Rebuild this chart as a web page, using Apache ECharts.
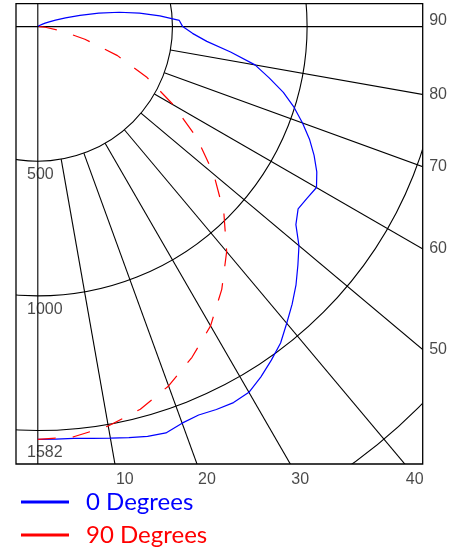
<!DOCTYPE html>
<html><head><meta charset="utf-8">
<script src="https://cdn.jsdelivr.net/npm/echarts@6/dist/echarts.min.js"></script>
<style>html,body{margin:0;padding:0;background:#fff}#c{width:459px;height:550px}</style>
</head><body><div id="c"></div>
<script>
// ---- data ----
const seriesNames = ['0 Degrees', '90 Degrees'];
const angles0 = [0,2.5,5,7.5,10,12.5,15,17.5,20,22.5,25,27.5,30,32.5,35,37.5,40,42.5,45,47.5,50,52.5,55,57.5,60,62.5,65,67.5,70,72.5,75,77.5,80,82.5,85,87.5,90,92.5,95,97.5,100,102.5,105,107.5,110,112.5,115,117.5,120,130,140,150,160,170,180];
const cd0 = [1533,1533,1535,1542,1552,1563,1575,1582,1567,1561,1569,1574,1568,1542,1512,1481,1438,1398,1356,1310,1266,1208,1180,1186,1195,1168,1132,1092,1046,998,944,880,819,722,630,575,538,526,455,381,307,232,162,108,70,46,30,20,13,5,2,1,0,0,0];
const angles90 = [0,5,10,15,20,25,30,35,40,45,50,55,60,65,70,75,80,85,90];
const cd90 = [1533,1529,1506,1471,1420,1355,1283,1191,1091,977,853,721,581,448,315,181,84,28,0];
const radiusLabels = [500, 1000, 1582];
const radialAngles = [10,20,30,40,50,60,70,80];
const bottomAngleLabels = [10,20,30,40];
const rightAngleLabels = [50,60,70,80,90];
const ringInterval = 500;
const ringMax = 2500;

// ---- layout / style ----
const CX = 37.8, CY = 26.6, PX_PER_CD = 0.2693;
const FRAME = {l:16, t:3.7, r:422.7, b:464};
const colors = ['#0000ff', '#ff0000'];
const gridColor = '#000';
const labelFont = {fontFamily:'Liberation Sans, Arial', fontSize:16, color:'#1a1a1a'};
const rad = d => d * Math.PI / 180;
const maxCd = Math.max(...cd0, ...cd90);

const series = [];
// full axis lines through the centre (0-180 and 90-270)
[[0,180],[90,270]].forEach(p => series.push({
  type:'line', coordinateSystem:'polar', data:[[ringMax,p[0]],[ringMax,p[1]]],
  symbol:'none', clip:false, silent:true, z:1,
  lineStyle:{color:gridColor, width:1.1}
}));
// radial lines from the first ring outward
radialAngles.forEach(a => series.push({
  type:'line', coordinateSystem:'polar', data:[[ringInterval,a],[ringMax,a]],
  symbol:'none', clip:false, silent:true, z:1,
  lineStyle:{color:gridColor, width:1.1}
}));
// data series
series.push({
  name:seriesNames[0], type:'line', coordinateSystem:'polar',
  data: angles0.map((a,i)=>[cd0[i], a]), symbol:'none', z:3,
  itemStyle:{color:colors[0]}, lineStyle:{color:colors[0], width:1.2}
});
series.push({
  name:seriesNames[1], type:'line', coordinateSystem:'polar',
  data: angles90.map((a,i)=>[cd90[i], a]), symbol:'none', z:3,
  itemStyle:{color:colors[1]}, lineStyle:{color:colors[1], width:1.2, type:[18,17]}
});
// radius labels along the 0 degree line
series.push({
  type:'scatter', coordinateSystem:'polar', symbolSize:0, z:20, silent:true,
  data: radiusLabels.map(v => ({
    value:[v, 0],
    label:{show:true, formatter:String(v), position:[0,0], align:'left', verticalAlign:'middle',
      offset:[FRAME.l + 11 - CX, v === maxCd ? 0 : 13.5], ...labelFont}
  }))
});
// angle labels on the bottom edge
series.push({
  type:'scatter', coordinateSystem:'polar', symbolSize:0, z:20, silent:true,
  data: bottomAngleLabels.map(a => ({
    value:[(FRAME.b - CY) / Math.cos(rad(a)) / PX_PER_CD, a],
    label:{show:true, formatter:String(a), position:[0,0], align:'left', verticalAlign:'middle',
      offset:[1, 16], ...labelFont}
  }))
});
// angle labels on the right edge
series.push({
  type:'scatter', coordinateSystem:'polar', symbolSize:0, z:20, silent:true,
  data: rightAngleLabels.map(a => ({
    value:[(FRAME.r - CX) / Math.sin(rad(a)) / PX_PER_CD, a],
    label:{show:true, formatter:String(a), position:[0,0], align:'left', verticalAlign:'middle',
      offset:[6.5, a === 90 ? -6 : 0], ...labelFont}
  }))
});

const W = 459, H = 550;
const masks = [
  [0,0,FRAME.l,H],[0,0,W,FRAME.t],[FRAME.r,0,W-FRAME.r,H],[0,FRAME.b,W,H-FRAME.b]
].map(r => ({type:'rect', shape:{x:r[0],y:r[1],width:r[2],height:r[3]}, style:{fill:'#fff'}, z:10, silent:true}));
masks.push({type:'rect', shape:{x:FRAME.l,y:FRAME.t,width:FRAME.r-FRAME.l,height:FRAME.b-FRAME.t},
  style:{fill:null, stroke:'#000', lineWidth:1.3}, z:11, silent:true});

const chart = echarts.init(document.getElementById('c'), null, {renderer:'canvas'});
chart.setOption({
  animation:false,
  backgroundColor:'#fff',
  polar:{center:[CX, CY], radius: ringMax * PX_PER_CD},
  angleAxis:{type:'value', min:0, max:360, startAngle:270, clockwise:false,
    axisLine:{show:false}, axisTick:{show:false}, axisLabel:{show:false}, splitLine:{show:false}},
  radiusAxis:{type:'value', min:0, max:ringMax, interval:ringInterval,
    axisLine:{show:false}, axisTick:{show:false}, axisLabel:{show:false},
    splitLine:{show:true, lineStyle:{color:gridColor, width:1.1}}},
  legend:{
    data: seriesNames.map((n,i)=>({name:n, textStyle:{color:colors[i]}})),
    orient:'vertical', left:21, top:489, padding:0, height:61,
    icon:'rect', itemWidth:48, itemHeight:3, itemGap:7,
    textStyle:{fontFamily:'Lato', fontSize:24, lineHeight:26, padding:[0,0,0,12]},
    z:30
  },
  graphic:{elements:masks},
  series: series
});
</script></body></html>
